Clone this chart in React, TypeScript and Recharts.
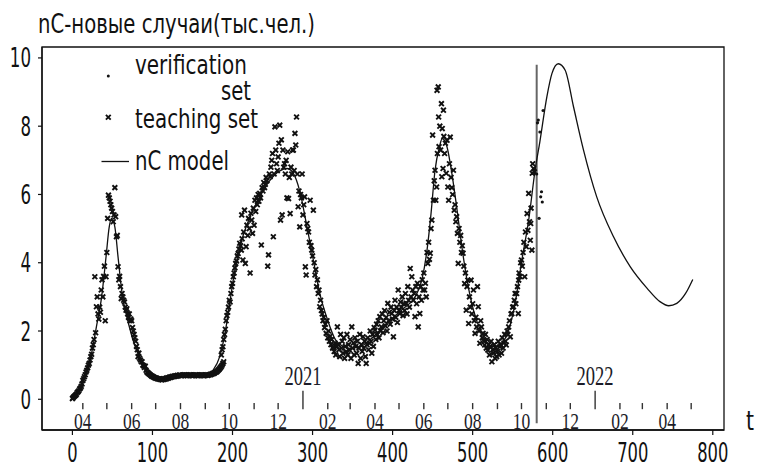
import { ComposedChart, Line, ReferenceArea, ReferenceDot, ReferenceLine, Scatter, XAxis, YAxis } from 'recharts'

// teaching set, one value per day from t = 0
const teachDaily = [
  0.02, 0.05, 0.08, 0.1, 0.12, 0.15, 0.2, 0.22, 0.25, 0.3, 0.33, 0.38, 0.45,
  0.55, 0.6, 0.66, 0.72, 0.8, 0.85, 0.92, 1.0, 1.05, 1.15, 1.25, 1.32,
  1.5, 1.6, 1.75, 3.59, 1.95, 2.71, 3.0, 2.5, 2.35, 2.7, 2.55,
  3.2, 3.5, 3.0, 3.6, 3.9, 2.3, 3.59, 4.3, 5.3, 5.98, 5.9, 5.8, 5.7,
  5.6, 5.5, 5.2, 5.4, 6.2, 5.35, 4.76, 4.8, 3.88, 3.5, 3.6, 3.3,
  2.95, 3.1, 3.0, 2.9, 2.85, 2.7, 2.61, 2.65, 2.5, 2.4, 2.5, 2.3, 2.35, 2.3, 2.1,
  2.0, 1.9, 1.8, 1.7, 1.55, 1.45, 1.25, 1.35, 1.2, 1.15, 1.1, 1.1, 1.0, 0.98, 0.93, 0.97, 0.85, 0.8, 0.78,
  0.76, 0.74, 0.72, 0.7, 0.68, 0.67, 0.66, 0.64, 0.63, 0.62, 0.62, 0.6, 0.6, 0.59, 0.6, 0.58,
  0.58, 0.57, 0.6, 0.58, 0.6, 0.59, 0.62, 0.6, 0.63, 0.62, 0.64, 0.65, 0.64, 0.66, 0.67, 0.66, 0.68, 0.67, 0.69, 0.68,
  0.7, 0.69, 0.7, 0.71, 0.7, 0.69, 0.7, 0.71, 0.7, 0.72, 0.7, 0.71, 0.69, 0.7, 0.71, 0.7, 0.72, 0.71, 0.7, 0.69,
  0.7, 0.71, 0.7, 0.72, 0.71, 0.7, 0.69, 0.7, 0.71, 0.7, 0.72, 0.71, 0.7, 0.69, 0.7, 0.7, 0.71, 0.72, 0.7, 0.71,
  0.72, 0.73, 0.72, 0.74, 0.75, 0.76, 0.76, 0.78, 0.8, 0.8, 0.82, 0.85, 0.87, 0.9, 0.93, 0.96, 1.0, 1.05, 1.1,
]

// teaching set, later waves as [t, value]
const teachLate: [number, number][] = [
  [186, 1.3], [187, 1.45], [188, 1.54], [189, 1.75], [190, 1.9], [191, 2.05], [192, 2.3], [193, 2.45], [194, 2.55], [195, 2.7],
  [196, 2.9], [197, 2.85], [198, 3.1], [199, 3.3], [200, 3.4], [201, 3.59], [202, 3.7], [203, 3.85], [204, 3.98], [205, 4.05],
  [206, 4.2], [207, 4.27], [208, 4.4], [209, 4.57], [210, 4.5], [211, 4.37], [211.5, 5.4], [212, 4.7], [213, 4.08], [214, 4.9],
  [215, 5.54], [216, 3.98], [217, 4.47], [218, 5.1], [219, 4.8], [220, 5.3], [221, 5.0], [222, 3.7], [223, 5.45], [224, 5.25],
  [225, 4.86], [226, 5.6], [227, 5.1], [228, 5.83], [229, 5.5], [230, 5.9], [231, 5.7], [232, 6.0], [233, 5.8], [234, 6.03],
  [235, 5.9], [236, 4.52], [237, 6.2], [238, 6.1], [239, 6.35], [240, 6.2], [241, 6.3], [242, 6.5], [243, 6.4], [244, 3.9],
  [245, 4.23], [246, 6.6], [247, 6.52], [248, 6.8], [249, 7.0], [250, 7.2], [251, 4.76], [252, 6.6], [253, 7.98], [254, 7.3],
  [255, 6.9], [256, 6.7], [257, 7.1], [258, 7.5], [259, 8.03], [260, 5.25], [261, 7.6], [262, 5.4], [263, 7.3], [264, 6.8],
  [265, 6.9], [266, 6.6], [267, 7.0], [268, 5.9], [269, 7.25], [270, 5.88], [271, 6.5], [272, 5.44], [273, 6.8], [274, 6.6],
  [275, 7.3], [276, 7.3], [277, 6.7], [278, 7.79], [279, 7.45], [280, 8.27], [281, 6.6], [282, 5.64], [283, 6.1], [284, 5.05],
  [285, 6.0], [286, 5.9], [287, 6.6], [288, 5.4], [289, 5.7], [290, 5.93], [291, 3.88], [292, 3.64], [293, 5.15], [294, 5.0],
  [295, 4.9], [296, 4.6], [297, 5.83], [298, 4.5], [299, 4.37], [300, 4.2], [301, 5.54], [302, 4.0], [303, 3.64], [304, 3.8],
  [305, 3.3], [306, 3.5], [307, 3.1], [308, 3.2], [309, 2.71], [310, 2.9], [311, 2.6], [312, 2.5], [313, 2.3], [314, 2.4],
  [315, 2.1], [316, 2.2], [317, 1.93], [318, 2.3], [319, 1.8], [320, 2.0], [321, 1.7], [322, 1.85], [323, 1.6], [324, 1.75],
  [325, 1.5], [326, 1.54], [327, 1.4], [328, 1.65], [329, 1.3], [330, 1.55],
  [331, 2.12], [332, 1.6], [333, 1.45], [334, 1.25], [335, 1.9], [336, 1.5], [337, 1.7], [338, 1.35], [339, 1.8], [340, 1.2],
  [341, 1.55], [342, 1.4], [343, 1.9], [344, 1.3], [345, 1.6], [346, 1.44], [347, 1.75], [348, 1.2], [349, 2.12], [350, 1.5],
  [351, 1.65], [352, 1.3], [353, 1.8], [354, 1.55], [355, 1.35], [356, 1.7], [357, 1.05], [358, 1.5], [359, 1.9], [360, 1.2],
  [361, 1.6], [362, 1.4], [363, 1.83], [364, 1.5], [365, 1.7], [366, 1.25], [367, 1.05], [368, 1.6], [369, 1.8], [370, 1.45],
  [371, 1.64], [372, 2.0], [373, 1.7], [374, 1.35], [375, 1.9], [376, 1.55], [377, 2.1], [378, 2.03], [379, 1.75], [380, 2.2],
  [381, 1.9], [382, 2.3], [383, 1.8], [384, 2.42], [385, 2.0], [386, 2.12], [387, 2.5], [388, 1.95], [389, 2.3], [390, 2.6],
  [391, 2.15], [392, 2.4], [393, 2.0], [394, 2.81], [395, 2.3], [396, 2.55], [397, 2.2], [398, 2.7], [399, 2.51], [400, 2.35],
  [401, 1.83], [402, 2.6], [403, 2.9], [404, 2.4], [405, 2.7], [406, 2.25], [407, 3.2], [408, 2.6], [409, 2.51], [410, 2.85],
  [411, 2.7], [412, 3.0], [413, 2.45], [414, 2.8], [415, 2.6], [416, 3.1], [417, 2.81], [418, 2.5], [419, 3.3], [420, 2.9],
  [421, 2.7], [422, 3.83], [423, 3.0], [424, 3.59], [425, 3.2], [426, 2.9], [427, 3.1], [428, 2.42], [429, 3.3], [430, 2.8],
  [431, 3.4], [432, 2.12], [433, 3.0], [434, 2.51], [435, 3.3], [436, 2.9], [437, 3.5], [438, 3.2], [439, 3.7], [440, 3.2],
  [441, 3.4], [442, 3.0], [443, 4.3], [444, 3.98], [445, 4.6], [446, 4.1], [447, 4.28], [448, 5.0],
  [449, 5.25], [450, 7.74], [451, 5.83], [452, 6.4], [453, 6.71], [454, 5.83], [455, 6.22], [455.5, 9.05], [456, 7.2], [457, 9.15],
  [457.5, 8.27], [458, 7.4], [459, 8.0], [460, 7.3], [461, 8.66], [461.5, 6.52], [462, 7.93], [463, 6.76], [463.5, 8.47], [464, 7.7],
  [465, 7.2], [466, 7.5], [467, 6.62], [468, 7.59], [469, 6.22], [470, 5.83], [471, 6.9], [472, 7.68], [473, 6.5], [474, 6.2],
  [475, 6.0], [476, 6.71], [477, 5.54], [478, 5.7], [479, 5.2], [480, 5.35],
  [481, 4.86], [482, 3.98], [483, 5.0], [484, 4.6], [485, 4.8], [486, 4.3], [487, 4.5], [488, 4.28], [489, 3.9], [490, 3.39],
  [491, 3.7], [492, 2.61], [493, 3.3], [494, 3.49], [495, 2.22], [496, 3.0], [497, 2.7], [498, 3.49], [499, 2.5], [500, 2.8],
  [501, 3.2], [502, 2.3], [503, 1.93], [504, 2.4], [505, 2.12], [506, 3.3], [507, 2.71], [508, 2.0], [509, 1.64], [510, 2.3],
  [511, 2.12], [512, 1.8], [513, 1.93], [514, 1.7], [515, 1.59], [516, 1.9], [517, 1.5], [518, 1.75], [519, 1.44], [520, 1.6],
  [521, 1.3], [522, 1.55], [523, 1.7], [524, 1.1], [525, 1.45], [526, 1.35], [527, 1.6], [528, 1.2], [529, 1.5], [530, 1.25],
  [531, 1.4], [532, 1.7], [533, 1.3], [534, 1.54], [535, 1.6], [536, 1.35], [537, 1.8], [538, 1.5], [539, 1.65], [540, 1.9],
  [541, 1.7], [542, 1.59], [543, 2.0], [544, 1.9], [545, 2.12], [546, 2.3], [547, 1.83], [548, 2.5], [549, 2.51], [550, 2.7],
  [551, 2.71], [552, 2.9], [553, 3.1], [554, 2.8], [555, 3.1], [556, 3.3], [557, 2.51], [557.5, 3.49], [558, 3.7], [559, 3.6],
  [560, 4.0], [561, 4.08], [562, 3.9], [563, 4.3], [564, 4.6], [565, 3.59], [566, 4.9], [567, 4.47], [568, 5.44], [569, 4.95],
  [570, 6.03], [571, 5.2], [572, 4.66], [572.5, 5.15], [573, 5.6], [574, 4.37], [574.5, 6.62], [575, 6.9], [576, 6.76], [577, 6.66],
]

const verification: [number, number][] = [
  [580, 6.6], [581, 8.1], [582, 8.18], [583, 5.3], [584, 7.83], [585, 5.93], [586, 6.08], [587, 5.78], [588, 8.46],
]

const model: [number, number][] = [
  [0, 0.03], [7, 0.25], [13.5, 0.56], [19, 0.9], [24, 1.35], [30, 2.13], [36.5, 3.0], [42, 4.17], [46, 5.05], [49, 5.3],
  [53, 5.05], [57, 4.17], [61.5, 3.2], [70, 2.22], [80, 1.44], [93, 0.9], [105, 0.66], [118, 0.58], [134, 0.66], [159, 0.68],
  [168, 0.7], [176, 0.86], [184, 1.25], [190.6, 1.93], [197, 2.9], [203, 3.79], [211.5, 4.66], [222, 5.35], [234, 5.93],
  [247, 6.42], [259, 6.69], [268, 6.76], [276, 6.62], [284, 6.1], [293, 5.05], [301, 4.08], [309, 3.1], [318, 2.38],
  [330, 1.7], [347, 1.49], [363.5, 1.59], [380, 1.93], [397, 2.32], [413.5, 2.66], [428, 3.0], [436.5, 3.49], [443, 4.37],
  [448, 5.44], [453, 6.71], [458.5, 7.39], [462, 7.64], [468, 7.39], [474, 6.62], [480, 5.64], [486.5, 4.47], [493, 3.49],
  [501, 2.61], [511.5, 1.93], [524, 1.54], [534, 1.6], [545, 2.03], [553, 2.81], [561.5, 4.08], [570, 5.25], [578, 6.71],
  [584, 7.55], [592.7, 8.86], [599, 9.54], [607, 9.83], [615.6, 9.64], [626, 8.57], [638.5, 7.3], [655, 5.93], [676, 4.76],
  [697, 3.88], [718, 3.25], [734, 2.86], [745, 2.74], [755, 2.81], [766, 3.1], [775, 3.51],
]

const xTicks = [0, 100, 200, 300, 400, 500, 600, 700, 800]
const yTicks = [0, 2, 4, 6, 8, 10]
const monthDays = [13, 43, 74, 104, 135, 166, 196, 227, 257, 319, 347, 378, 408, 439, 469, 500, 531, 561, 592, 622, 684, 712, 743, 773]
const labelDays = [13, 74, 135, 196, 257, 319, 378, 439, 500, 561, 622, 684, 743]
const labelTexts = ['04', '06', '08', '10', '12', '02', '04', '06', '08', '10', '12', '02', '04']
const yearDays = [288, 653]
const yearTexts = ['2021', '2022']
const splitDay = 580

const SANS = '"DejaVu Sans", sans-serif'
const SERIF = '"Liberation Serif", serif'
const INK = '#111'

const teachData = [...teachDaily.map((v, i) => ({ t: i, v })), ...teachLate.map(([t, v]) => ({ t, v }))]
const verData = verification.map(([t, v]) => ({ t, v }))
const modelData = model.map(([t, v]) => ({ t, v }))

function XMark({ cx, cy }: any) {
  const d = 2.4
  return (
    <path d={`M${cx - d},${cy - d}L${cx + d},${cy + d}M${cx - d},${cy + d}L${cx + d},${cy - d}`} stroke={INK} strokeWidth={1.9} />
  )
}

function XTick(p: any) {
  const s = String(p.payload.value)
  return (
    <text x={p.x} y={p.y + 25} textAnchor="middle" fontFamily={SANS} fontSize={26} fill={INK} textLength={s.length * 10.4} lengthAdjust="spacingAndGlyphs">
      {s}
    </text>
  )
}

function YTick(p: any) {
  const s = String(p.payload.value)
  return (
    <text x={p.x} y={p.y + 9.5} textAnchor="end" fontFamily={SANS} fontSize={26.5} fill={INK} textLength={s.length * 10.6} lengthAdjust="spacingAndGlyphs">
      {s}
    </text>
  )
}

function serifLabel(text: string, size: number, width: number) {
  return (p: any) => (
    <text x={p.cx} y={p.cy} textAnchor="middle" fontFamily={SERIF} fontSize={size} fill="#1c1c28" textLength={width} lengthAdjust="spacingAndGlyphs">
      {text}
    </text>
  )
}

function Overlay() {
  const txt = (x: number, y: number, s: string, w: number) => (
    <text x={x} y={y} fontFamily={SANS} fontSize={26} fill={INK} textLength={w} lengthAdjust="spacingAndGlyphs">
      {s}
    </text>
  )
  return (
    <svg width={757} height={466} style={{ position: 'absolute', left: 0, top: 0, pointerEvents: 'none' }}>
      {txt(38, 33, 'nC-новые случаи(тыс.чел.)', 277)}
      <circle cx={108.3} cy={76} r={1.5} fill={INK} />
      {txt(135, 74, 'verification', 112)}
      {txt(221, 100, 'set', 30)}
      <XMark cx={108.3} cy={117.3} />
      {txt(135, 128, 'teaching set', 123)}
      <line x1={101.5} x2={129} y1={161.5} y2={161.5} stroke={INK} strokeWidth={1.3} />
      {txt(135, 170, 'nC model', 94)}
      {txt(746, 430, 't', 8)}
    </svg>
  )
}

export default function App() {
  return (
    <div style={{ position: 'absolute', left: 0, top: 0, width: 757, height: 466, background: '#fff' }}>
      <ComposedChart width={757} height={466} margin={{ top: 47, right: 33, bottom: 0, left: 0 }}>
        <XAxis
          type="number"
          dataKey="t"
          domain={[-38, 814]}
          ticks={xTicks}
          allowDataOverflow
          height={36}
          tickSize={5}
          tickMargin={2}
          tick={<XTick />}
          axisLine={{ stroke: INK, strokeWidth: 1.3 }}
          tickLine={{ stroke: INK, strokeWidth: 1.2 }}
        />
        <YAxis
          type="number"
          dataKey="v"
          domain={[-0.9, 10.32]}
          ticks={yTicks}
          allowDataOverflow
          width={42}
          tickSize={4}
          tickMargin={7}
          tick={<YTick />}
          axisLine={{ stroke: INK, strokeWidth: 1.3 }}
          tickLine={{ stroke: INK, strokeWidth: 1.2 }}
        />
        <ReferenceArea x1={-38} x2={814} y1={-0.9} y2={10.32} fill="none" stroke={INK} strokeWidth={1.3} ifOverflow="visible" />
        {monthDays.map((d) => (
          <ReferenceLine key={'m' + d} segment={[{ x: d, y: -0.11 }, { x: d, y: -0.29 }]} stroke="#333" strokeWidth={1.4} />
        ))}
        {yearDays.map((d) => (
          <ReferenceLine key={'y' + d} segment={[{ x: d, y: 0.25 }, { x: d, y: -0.29 }]} stroke="#333" strokeWidth={1.4} />
        ))}
        {labelDays.map((d, i) => (
          <ReferenceDot key={'l' + i} x={d} y={-0.87} r={0} shape={serifLabel(labelTexts[i], 24, 17.5)} />
        ))}
        {yearDays.map((d, i) => (
          <ReferenceDot key={'yl' + i} x={d} y={0.42} r={0} shape={serifLabel(yearTexts[i], 27, 37)} />
        ))}
        <ReferenceLine segment={[{ x: splitDay, y: -0.7 }, { x: splitDay, y: 9.8 }]} stroke="#666" strokeWidth={2} />
        <Scatter data={teachData} dataKey="v" shape={(p: any) => <XMark cx={p.cx} cy={p.cy} />} isAnimationActive={false} />
        <Scatter data={verData} dataKey="v" shape={(p: any) => <circle cx={p.cx} cy={p.cy} r={1.6} fill={INK} />} isAnimationActive={false} />
        <Line data={modelData} dataKey="v" type="monotone" stroke={INK} strokeWidth={1.3} dot={false} isAnimationActive={false} />
      </ComposedChart>
      <Overlay />
    </div>
  )
}
